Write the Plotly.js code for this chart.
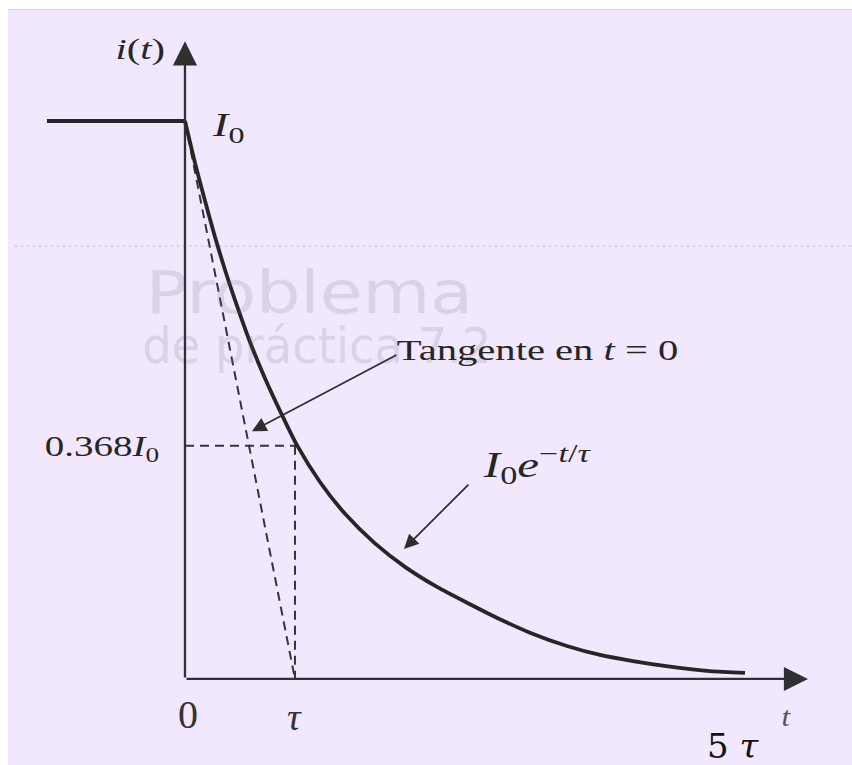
<!DOCTYPE html>
<html>
<head>
<meta charset="utf-8">
<script src="https://cdn.plot.ly/plotly-3.0.1.min.js"></script>
<style>
html,body{margin:0;padding:0;background:#ffffff;}
#chart{position:absolute;left:8px;top:9px;width:844px;height:756px;border-top:1px solid #dcd6e6;}
</style>
</head>
<body>
<div id="chart"></div>
<script>
// Data (t in units of tau, i in units of I0)
var tCurve = [0, 0.091, 0.182, 0.273, 0.364, 0.455, 0.591, 0.727, 0.882, 1.018, 1.227, 1.455, 1.727, 2.0, 2.291, 2.591, 2.864, 3.136, 3.473, 3.773, 4.073, 4.409, 4.773, 5.091];
var iCurve = [1, 0.925, 0.857, 0.792, 0.733, 0.679, 0.604, 0.539, 0.473, 0.419, 0.353, 0.296, 0.243, 0.201, 0.165, 0.134, 0.107, 0.083, 0.059, 0.043, 0.032, 0.022, 0.014, 0.011];
var tBefore = [-1.255, 0];
var iBefore = [1, 1];
var tTangent = [0, 1];
var iTangent = [1, 0];
var tauLevel = 0.418;         // drawn height of the 0.368 I0 mark on the figure
var tauT = 1;
var xTickVals = [0, 1, 5];
var xTickText = ['0', '<i>τ</i>', '5 <i>τ</i>'];
var yTickText = '0.368<i>I</i><sub>0</sub>';

var ink = '#262626';
var axisInk = '#303030';
var serif = 'Liberation Serif, Times New Roman, serif';
var dashStyle = {color: '#353535', width: 2, dash: '9px,6px'};

var traces = [
  {x: tBefore, y: iBefore, mode: 'lines', line: {color: ink, width: 4}, hoverinfo: 'skip'},
  {x: tTangent, y: iTangent, mode: 'lines', line: dashStyle, hoverinfo: 'skip'},
  {x: [0, tauT], y: [tauLevel, tauLevel], mode: 'lines', line: dashStyle, hoverinfo: 'skip'},
  {x: [tauT, tauT], y: [tauLevel, 0], mode: 'lines', line: dashStyle, hoverinfo: 'skip'},
  {x: tCurve, y: iCurve, mode: 'lines', line: {color: ink, width: 3.8, shape: 'spline', smoothing: 0.7}, hoverinfo: 'skip'}
];

function arrowAnn(x0, y0, x1, y1, w, s, color) {
  return {x: x1, y: y1, ax: x0, ay: y0, axref: 'x', ayref: 'y', xref: 'x', yref: 'y',
    showarrow: true, arrowhead: 2, arrowsize: s, arrowwidth: w, arrowcolor: color, text: ''};
}

var wm = 'rgba(110,100,125,0.17)';
var ann = [
  {x: 1.136, y: 0.692, text: 'Problema', font: {family: 'DejaVu Sans, sans-serif', size: 58, color: wm}, sx: 1.2},
  {x: 1.2, y: 0.597, text: 'de práctica 7.2', font: {family: 'DejaVu Sans, sans-serif', size: 50, color: wm}, sx: 0.93},
  {x: -0.409, y: 1.129, text: '<i>i</i>(<i>t</i>)', font: {family: serif, size: 30, color: ink}, sx: 1.35},
  {x: 0.39, y: 0.99, text: '<i>I</i><sub>0</sub>', font: {family: serif, size: 34, color: ink}, sx: 1.35},
  {x: 3.209, y: 0.59, text: 'Tangente en <i>t</i> = 0', font: {family: serif, size: 29, color: ink}, sx: 1.4},
  {x: -0.755, y: tauLevel - 0.004, text: yTickText, font: {family: serif, size: 30, color: ink}, sx: 1.3},
  {x: 3.2, y: 0.385, text: '<i>I</i><sub>0</sub><i>e</i><sup>−<i>t</i>/<i>τ</i></sup>', font: {family: serif, size: 35, color: ink}, sx: 1.4},
  {x: xTickVals[0] + 0.027, y: -0.0645, text: xTickText[0], font: {family: serif, size: 40, color: '#333'}, sx: 1},
  {x: xTickVals[1], y: -0.068, text: xTickText[1], font: {family: serif, size: 38, color: '#333'}, sx: 1},
  {x: xTickVals[2] - 0.02, y: -0.12, text: xTickText[2], font: {family: 'DejaVu Serif, serif', size: 34, color: '#111'}, sx: 1},
  {x: 5.47, y: -0.068, text: '<i>t</i>', font: {family: serif, size: 28, color: '#555'}, sx: 1.1}
];
ann.forEach(function (a) { a.xref = 'x'; a.yref = 'y'; a.showarrow = false; a.xanchor = 'center'; a.yanchor = 'middle'; });
ann.push(arrowAnn(0, 0, 5.664, 0, 2.3, 2.1, axisInk));
ann.push(arrowAnn(0, 0, 0, 1.143, 2.3, 2.1, axisInk));
ann.push(arrowAnn(1.936, 0.582, 0.609, 0.444, 1.7, 1.7, '#2e2e2e'));
ann.push(arrowAnn(2.591, 0.351, 1.991, 0.233, 1.7, 1.7, '#2e2e2e'));
var stretch = ann.map(function (a) { return a.sx; });
ann.forEach(function (a) { delete a.sx; });

var layout = {
  width: 844, height: 756,
  margin: {l: 0, r: 0, t: 0, b: 0},
  paper_bgcolor: '#f1e8fd', plot_bgcolor: 'rgba(0,0,0,0)',
  showlegend: false,
  xaxis: {range: [-1.609, 6.064], visible: false, fixedrange: true},
  yaxis: {range: [-0.156, 1.199], visible: false, fixedrange: true},
  shapes: [
    {type: 'line', xref: 'x', yref: 'y', x0: -1.55, x1: 6.064, y0: 0.776, y1: 0.776, layer: 'below', line: {color: 'rgba(130,130,140,0.25)', width: 1.5, dash: 'dot'}}
  ],
  annotations: ann
};

Plotly.newPlot('chart', traces, layout, {staticPlot: true, displayModeBar: false}).then(function (gd) {
  var groups = gd.querySelectorAll('g.annotation');
  groups.forEach(function (g) {
    var idx = +g.getAttribute('data-index');
    var s = stretch[idx];
    if (!s || s === 1) return;
    var t = g.querySelector('text.annotation-text');
    if (!t) return;
    var bb = t.getBBox();
    var cx = bb.x + bb.width / 2;
    t.setAttribute('transform', 'translate(' + cx + ',0) scale(' + s + ',1) translate(' + (-cx) + ',0)');
  });
});
</script>
</body>
</html>
